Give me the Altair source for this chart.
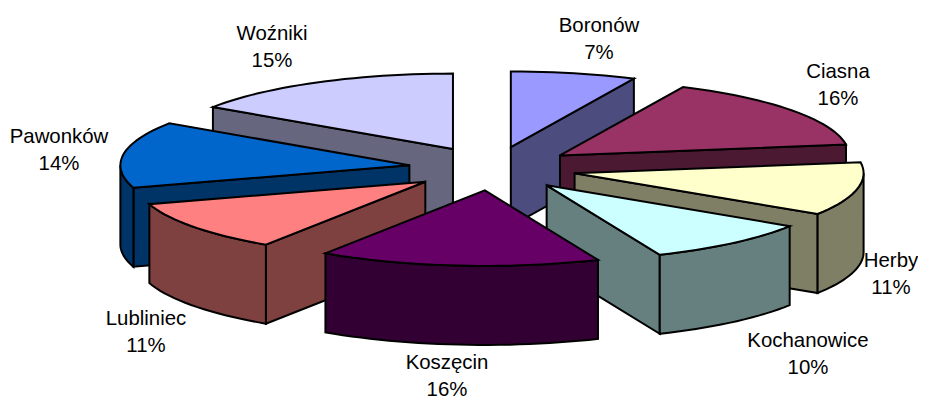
import math
import altair as alt

# --- data ---
names = ["Boronów", "Ciasna", "Herby", "Kochanowice", "Koszęcin", "Lubliniec", "Pawonków", "Woźniki"]
percent_labels = [7, 16, 11, 10, 16, 11, 14, 15]
# slice sizes (the printed labels are rounded)
shares = [7.0, 15.7, 11.4, 9.5, 15.7, 10.9, 14.2, 15.6]
tops = ["#9999FF", "#993366", "#FFFFCC", "#CCFFFF", "#660066", "#FF8080", "#0066CC", "#CCCCFF"]
sides = ["#4C4C7F", "#4C1933", "#7F7F66", "#667F7F", "#330033", "#7F4040", "#003366", "#66667F"]
label_x = [599, 838, 891, 808, 447, 146, 59, 272]
label_y = [26, 72, 261, 341, 363, 319, 137, 34]

# --- layout of the 3-D projection ---
OFF = 8
CX, CY = 492.5 - OFF, 168.5 - OFF
RX, RY = 289, 75.5
EXPLODE_X, EXPLODE_Y = 84, 22
DEPTH = 79
draw_order = [0, 7, 1, 6, 2, 5, 3, 4]


def feature(ring, fill):
    ring = [list(p) for p in ring] + [list(ring[0])]
    return {"type": "Feature", "properties": {"fill": fill},
            "geometry": {"type": "Polygon", "coordinates": [ring]}}


def slice_faces(i):
    total = sum(shares)
    a0 = 360 * sum(shares[:i]) / total
    a1 = a0 + 360 * shares[i] / total
    mid = math.radians((a0 + a1) / 2)
    ax = CX + EXPLODE_X * math.sin(mid)
    ay = CY - EXPLODE_Y * math.cos(mid)

    def pt(deg):
        t = math.radians(deg)
        return (ax + RX * math.sin(t), ay - RY * math.cos(t))

    steps = max(2, int((a1 - a0) / 2))
    degs = [a0 + (a1 - a0) * k / steps for k in range(steps + 1)]
    arc = [pt(d) for d in degs]
    apex = (ax, ay)
    out = []
    m = pt((a0 + a1) / 2)
    for p in (arc[0], arc[-1]):
        ex, ey = p[0] - ax, p[1] - ay
        cross = ex * (m[1] - ay) - ey * (m[0] - ax)
        if ex * cross < 0 and abs(ex) > 0.5:
            out.append(feature([apex, p, (p[0], p[1] + DEPTH), (ax, ay + DEPTH)], sides[i]))
    lo, hi = max(a0, 90), min(a1, 270)
    if lo < hi:
        wd = [lo + (hi - lo) * k / steps for k in range(steps + 1)]
        upper = [pt(d) for d in wd]
        lower = [(x, y + DEPTH) for x, y in reversed(upper)]
        out.append(feature(upper + lower, sides[i]))
    out.append(feature([apex] + arc, tops[i]))
    return out


features = []
for i in draw_order:
    features.extend(slice_faces(i))

labels = [
    {"t": f"{n}\n{s}%", "x": x - OFF, "y": y - OFF}
    for n, s, x, y in zip(names, percent_labels, label_x, label_y)
]

W, H = 910, 392

pie = (
    alt.Chart(alt.Data(values=features))
    .mark_geoshape(stroke="black", strokeWidth=2, strokeJoin="miter")
    .encode(fill=alt.Fill("properties.fill:N", scale=None))
    .project(type="identity", scale=1, translate=[0, 0])
)

text = (
    alt.Chart(alt.Data(values=labels))
    .mark_text(font="Liberation Sans", fontSize=20.4, lineBreak="\n", lineHeight=27,
               align="center", baseline="middle", color="black")
    .encode(
        x=alt.X("x:Q", scale=alt.Scale(domain=[0, W], range=[0, W]), axis=None),
        y=alt.Y("y:Q", scale=alt.Scale(domain=[0, H], range=[0, H]), axis=None),
        text="t:N",
    )
)

chart = (
    alt.layer(pie, text)
    .properties(width=W, height=H, padding=0, autosize=alt.AutoSizeParams(type="none"))
    .configure_view(stroke=None)
)

chart.save("out.html", embed_options={"renderer": "svg", "actions": False})
